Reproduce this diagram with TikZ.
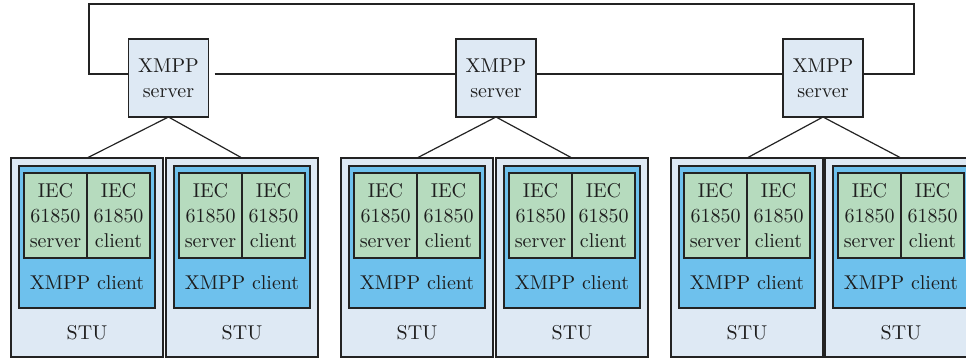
\documentclass[tikz,border=0pt]{standalone}
\usepackage{xcolor}
\usepackage{tikz}

\definecolor{stubg}{RGB}{222,233,244}
\definecolor{xmppblue}{RGB}{110,193,237}
\definecolor{iecgreen}{RGB}{182,219,190}
\definecolor{edgegray}{RGB}{35,35,35}
\definecolor{textgray}{RGB}{30,30,30}

\begin{document}
\begin{tikzpicture}[x=0.5pt,y=-0.5pt,line width=0.6pt,
  every node/.style={inner sep=0pt,outer sep=0pt,text=textgray,
    font=\fontsize{10}{12.5}\selectfont},
  serverbox/.style={draw=edgegray,fill=stubg,minimum width=40pt,minimum height=39pt,align=center},
  stubox/.style={draw=edgegray,fill=stubg,minimum width=76pt,minimum height=99.5pt},
  xmppbox/.style={draw=edgegray,fill=xmppblue,minimum width=68pt,minimum height=71pt},
  iecbox/.style={draw=edgegray,fill=iecgreen,minimum width=31.5pt,minimum height=42.5pt,align=center}]
\useasboundingbox (0,0) rectangle (966,360);
\clip (0,0) rectangle (966,360);

% XMPP servers
\node (s1) at (168.5,78)[serverbox]{XMPP\\server};
\node (s2) at (496,78)[serverbox]{XMPP\\server};
\node (s3) at (823,78)[serverbox]{XMPP\\server};

% bus between the servers
\coordinate (bus) at (0,74);
\coordinate (lt) at (89,4);
\coordinate (rt) at (914,4);
\draw[edgegray] (s1.west |- bus) -- (lt |- bus) -- (lt) -- (rt) -- (rt |- bus) -- (s3.east |- bus);
\draw[edgegray,shorten <=3pt] (s1.east |- bus) -- (s2.west |- bus);
\draw[edgegray] (s2.east |- bus) -- (s3.west |- bus);

% STUs
\foreach \i/\l in {1/11,2/166,3/341,4/496,5/671,6/825}{
  \node (stu\i) at ({\l+76},257.5)[stubox]{};
  \node (xc\i) at ({\l+76},237)[xmppbox]{};
  \node (iecs\i) at ({\l+44.5},215.5)[iecbox]{IEC\\61850\\server};
  \node (iecc\i) at ({\l+107.5},215.5)[iecbox]{IEC\\61850\\client};
  \node (xct\i) at ({\l+76},283){XMPP client};
  \node (stut\i) at ({\l+76},333){STU};
}

\draw[edgegray] (s1.south) -- (stu1.north);
\draw[edgegray] (s1.south) -- (stu2.north);
\draw[edgegray] (s2.south) -- (stu3.north);
\draw[edgegray] (s2.south) -- (stu4.north);
\draw[edgegray] (s3.south) -- (stu5.north);
\draw[edgegray] (s3.south) -- (stu6.north);

\end{tikzpicture}
\end{document}
